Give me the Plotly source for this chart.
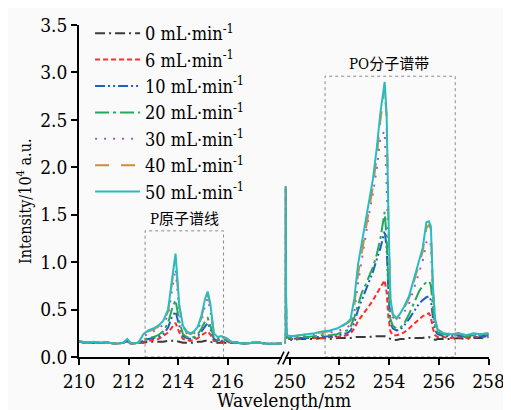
import plotly.graph_objects as go

# ---------------- data ----------------
labels = ["0", "6", "10", "20", "30", "40", "50"]

wl_left = [210.0, 210.3, 210.6, 210.9, 211.2, 211.5, 211.8, 211.95, 212.1, 212.4,
           212.6, 212.8, 213.0, 213.2, 213.4, 213.6, 213.75, 213.9, 214.05, 214.2,
           214.35, 214.5, 214.65, 214.8, 214.95, 215.1, 215.2, 215.3, 215.45, 215.6,
           215.75, 215.95, 216.15, 216.4, 216.7, 217.0, 217.3, 217.6, 217.9, 218.2]

wl_right = [249.80, 249.82, 249.86, 250.1, 250.4, 250.7, 251.0, 251.3, 251.6, 251.9,
            252.1, 252.3, 252.45, 252.6, 252.75, 252.9, 253.05, 253.2, 253.35, 253.5,
            253.65, 253.82, 253.9, 253.97, 254.05, 254.15, 254.3, 254.45, 254.6, 254.8,
            255.0, 255.2, 255.35, 255.5, 255.6, 255.68, 255.76, 255.85, 255.95, 256.2,
            256.5, 256.8, 257.1, 257.4, 257.7, 258.0]

left_0 = [0.16, 0.15, 0.15, 0.15, 0.15, 0.14, 0.15, 0.17, 0.14, 0.15, 0.15, 0.16, 0.16, 0.16,
          0.16, 0.17, 0.17, 0.17, 0.16, 0.15, 0.15, 0.15, 0.15, 0.16, 0.16, 0.17, 0.17, 0.16,
          0.15, 0.15, 0.15, 0.15, 0.15, 0.15, 0.14, 0.15, 0.15, 0.14, 0.14, 0.14]
left_6 = [0.16, 0.15, 0.15, 0.15, 0.15, 0.14, 0.15, 0.17, 0.14, 0.15, 0.16, 0.17, 0.18, 0.19,
          0.22, 0.26, 0.31, 0.36, 0.26, 0.19, 0.18, 0.17, 0.18, 0.20, 0.23, 0.26, 0.27, 0.24,
          0.17, 0.16, 0.16, 0.16, 0.15, 0.15, 0.14, 0.15, 0.15, 0.14, 0.14, 0.14]
left_10 = [0.16, 0.15, 0.15, 0.15, 0.15, 0.14, 0.15, 0.17, 0.14, 0.15, 0.17, 0.19, 0.20, 0.21,
           0.24, 0.31, 0.42, 0.48, 0.33, 0.22, 0.20, 0.19, 0.20, 0.22, 0.27, 0.33, 0.36, 0.30,
           0.19, 0.17, 0.17, 0.17, 0.15, 0.15, 0.14, 0.15, 0.15, 0.14, 0.14, 0.14]
left_20 = [0.16, 0.15, 0.15, 0.15, 0.15, 0.14, 0.15, 0.17, 0.14, 0.15, 0.18, 0.20, 0.21, 0.23,
           0.27, 0.36, 0.50, 0.60, 0.38, 0.24, 0.21, 0.20, 0.21, 0.24, 0.30, 0.38, 0.41, 0.34,
           0.20, 0.18, 0.18, 0.18, 0.16, 0.15, 0.14, 0.15, 0.15, 0.14, 0.14, 0.14]
left_30 = [0.16, 0.15, 0.15, 0.15, 0.15, 0.14, 0.15, 0.18, 0.14, 0.15, 0.21, 0.25, 0.27, 0.30,
           0.34, 0.44, 0.68, 0.93, 0.48, 0.30, 0.25, 0.23, 0.25, 0.29, 0.38, 0.55, 0.62, 0.50,
           0.23, 0.20, 0.20, 0.19, 0.16, 0.15, 0.14, 0.15, 0.15, 0.14, 0.14, 0.14]
left_40 = [0.17, 0.15, 0.16, 0.15, 0.15, 0.14, 0.15, 0.19, 0.14, 0.15, 0.23, 0.27, 0.29, 0.32,
           0.37, 0.48, 0.77, 1.05, 0.53, 0.32, 0.26, 0.24, 0.26, 0.31, 0.42, 0.60, 0.66, 0.55,
           0.24, 0.21, 0.21, 0.20, 0.16, 0.15, 0.14, 0.15, 0.15, 0.14, 0.14, 0.14]
left_50 = [0.17, 0.15, 0.16, 0.15, 0.15, 0.14, 0.15, 0.19, 0.14, 0.15, 0.24, 0.28, 0.30, 0.33,
           0.38, 0.50, 0.80, 1.09, 0.55, 0.33, 0.27, 0.25, 0.27, 0.32, 0.44, 0.62, 0.69, 0.57,
           0.25, 0.21, 0.22, 0.20, 0.16, 0.15, 0.14, 0.15, 0.15, 0.14, 0.14, 0.14]

right_0 = [0.14, 1.80, 0.19, 0.18, 0.19, 0.19, 0.19, 0.20, 0.19, 0.20, 0.20, 0.20, 0.20, 0.21,
           0.21, 0.21, 0.21, 0.21, 0.22, 0.22, 0.22, 0.22, 0.21, 0.20, 0.19, 0.18, 0.18, 0.19,
           0.19, 0.20, 0.20, 0.20, 0.20, 0.21, 0.21, 0.20, 0.19, 0.18, 0.19, 0.19, 0.19, 0.20,
           0.19, 0.20, 0.20, 0.21]
right_6 = [0.14, 1.80, 0.19, 0.19, 0.19, 0.20, 0.20, 0.20, 0.21, 0.21, 0.22, 0.23, 0.25, 0.30,
           0.38, 0.43, 0.49, 0.54, 0.60, 0.67, 0.74, 0.81, 0.68, 0.42, 0.27, 0.23, 0.23, 0.24,
           0.26, 0.30, 0.35, 0.40, 0.43, 0.45, 0.46, 0.42, 0.30, 0.23, 0.21, 0.21, 0.20, 0.21,
           0.20, 0.21, 0.21, 0.22]
right_10 = [0.14, 1.80, 0.20, 0.19, 0.20, 0.20, 0.21, 0.21, 0.22, 0.22, 0.24, 0.25, 0.28, 0.36,
            0.50, 0.60, 0.70, 0.81, 0.90, 1.03, 1.15, 1.33, 1.15, 0.68, 0.36, 0.30, 0.28, 0.29,
            0.33, 0.40, 0.48, 0.56, 0.60, 0.63, 0.64, 0.60, 0.42, 0.28, 0.24, 0.22, 0.22, 0.23,
            0.21, 0.22, 0.22, 0.23]
right_20 = [0.14, 1.80, 0.21, 0.20, 0.21, 0.21, 0.22, 0.23, 0.23, 0.24, 0.26, 0.28, 0.32, 0.42,
            0.55, 0.68, 0.76, 0.85, 0.95, 1.08, 1.25, 1.53, 1.25, 0.75, 0.40, 0.33, 0.30, 0.31,
            0.35, 0.45, 0.58, 0.69, 0.75, 0.79, 0.80, 0.76, 0.52, 0.32, 0.26, 0.24, 0.23, 0.24,
            0.22, 0.23, 0.23, 0.24]
right_30 = [0.14, 1.80, 0.23, 0.22, 0.22, 0.23, 0.24, 0.25, 0.26, 0.27, 0.29, 0.31, 0.34, 0.48,
            0.78, 1.03, 1.28, 1.52, 1.73, 1.98, 2.32, 2.38, 1.80, 1.20, 0.55, 0.42, 0.38, 0.42,
            0.47, 0.56, 0.72, 0.89, 1.01, 1.21, 1.24, 1.18, 0.66, 0.36, 0.28, 0.25, 0.24, 0.25,
            0.23, 0.24, 0.24, 0.25]
right_40 = [0.14, 1.80, 0.23, 0.22, 0.23, 0.24, 0.25, 0.26, 0.27, 0.29, 0.32, 0.35, 0.38, 0.55,
            0.88, 1.10, 1.33, 1.55, 1.80, 2.12, 2.50, 2.84, 2.50, 1.48, 0.60, 0.44, 0.40, 0.45,
            0.51, 0.62, 0.80, 0.98, 1.11, 1.36, 1.39, 1.35, 0.73, 0.39, 0.29, 0.25, 0.24, 0.25,
            0.23, 0.25, 0.24, 0.25]
right_50 = [0.14, 1.80, 0.23, 0.22, 0.23, 0.24, 0.25, 0.27, 0.28, 0.30, 0.33, 0.36, 0.40, 0.62,
            0.98, 1.20, 1.42, 1.65, 1.88, 2.20, 2.58, 2.90, 2.55, 1.50, 0.62, 0.45, 0.41, 0.46,
            0.53, 0.64, 0.83, 1.02, 1.15, 1.42, 1.43, 1.38, 0.75, 0.40, 0.29, 0.25, 0.24, 0.25,
            0.23, 0.25, 0.24, 0.25]

left_series = [left_0, left_6, left_10, left_20, left_30, left_40, left_50]
right_series = [right_0, right_6, right_10, right_20, right_30, right_40, right_50]

left_ticks = [210, 212, 214, 216]
right_ticks = [250, 252, 254, 256, 258]
y_ticks = [0.0, 0.5, 1.0, 1.5, 2.0, 2.5, 3.0, 3.5]

# ---------------- styles ----------------
colors = ["#3a3a3a", "#ff2a2a", "#1f5fbf", "#22a85a", "#9a5cc8", "#cf8d36", "#28bcc0"]
dashes = ["10px,4px,2px,4px", "5px,3px", "10px,3px,2px,3px,2px,3px", "14px,4px,3px,4px",
          "2px,7px", "14px,12px", "solid"]

SERIF = "DejaVu Serif Condensed, DejaVu Serif"
CJK = "DejaVu Serif Condensed, DejaVu Serif, Noto Sans CJK SC"

fig = go.Figure()
for i, lab in enumerate(labels):
    name = f"{lab} mL·min<sup>-1</sup>"
    line = dict(color=colors[i], dash=dashes[i], width=2)
    fig.add_trace(go.Scatter(x=wl_left, y=left_series[i], mode="lines", name=name,
                             line=line, xaxis="x", yaxis="y"))
    fig.add_trace(go.Scatter(x=wl_right, y=right_series[i], mode="lines", name=name,
                             showlegend=False, line=line, xaxis="x2", yaxis="y"))

axis_common = dict(showline=True, linecolor="black", linewidth=1.5, ticks="outside",
                   ticklen=6, tickwidth=1.5, tickcolor="black", showgrid=False,
                   zeroline=False, automargin=False,
                   tickfont=dict(family=SERIF, size=19, color="black"))

PH = 342.0  # paper height in px (plot area is the lower 332 px of it)

fig.update_layout(
    width=511, height=410,
    margin=dict(l=71, r=30, t=7, b=61),
    paper_bgcolor="#fafafa", plot_bgcolor="#fafafa",
    font=dict(family=SERIF, color="black"),
    showlegend=True,
    legend=dict(x=0.027, y=1.0, xanchor="left", yanchor="top", bgcolor="rgba(0,0,0,0)",
                font=dict(family=SERIF, size=18, color="black"), itemwidth=45),
    xaxis=dict(domain=[0, 0.495], range=[210, 218.2], tickvals=left_ticks, **axis_common),
    xaxis2=dict(domain=[0.502, 1.0], range=[249.8, 258.02], tickvals=right_ticks,
                anchor="y", **axis_common),
    yaxis=dict(domain=[0, 332.0 / PH], range=[0, 3.5], tickvals=y_ticks, tickformat=".1f",
               **axis_common),
)

# dotted boxes around the line groups
fig.add_shape(type="rect", xref="x", yref="y", x0=212.67, x1=215.84, y0=0, y1=1.33,
              line=dict(color="#8a8a8a", width=1, dash="dot"))
fig.add_shape(type="rect", xref="x2", yref="y", x0=251.42, x1=256.66, y0=0, y1=2.96,
              line=dict(color="#8a8a8a", width=1, dash="dot"))

# axis break marks
for dx in (0.0, 0.012):
    fig.add_shape(type="line", xref="paper", yref="paper",
                  x0=0.485 + dx, x1=0.500 + dx, y0=-7.3 / PH, y1=5.3 / PH,
                  line=dict(color="black", width=1.5))

fig.add_annotation(text="P原子谱线", xref="x", yref="y", x=214.25, y=1.46,
                   showarrow=False, font=dict(family=CJK, size=15, color="black"))
fig.add_annotation(text="PO分子谱带", xref="x2", yref="y", x=254.0, y=3.09,
                   showarrow=False, font=dict(family=CJK, size=15, color="black"))

fig.add_annotation(text="Intensity/10<sup>4</sup> a.u.", xref="paper", yref="paper",
                   x=-0.134, y=156.0 / PH, xanchor="center", yanchor="middle", textangle=-90,
                   showarrow=False, font=dict(family=SERIF, size=16, color="black"))
fig.add_annotation(text="Wavelength/nm", xref="paper", yref="paper",
                   x=0.5, y=-43.0 / PH, xanchor="center", yanchor="middle", showarrow=False,
                   font=dict(family=SERIF, size=19, color="black"))

fig.write_html("out.html")
